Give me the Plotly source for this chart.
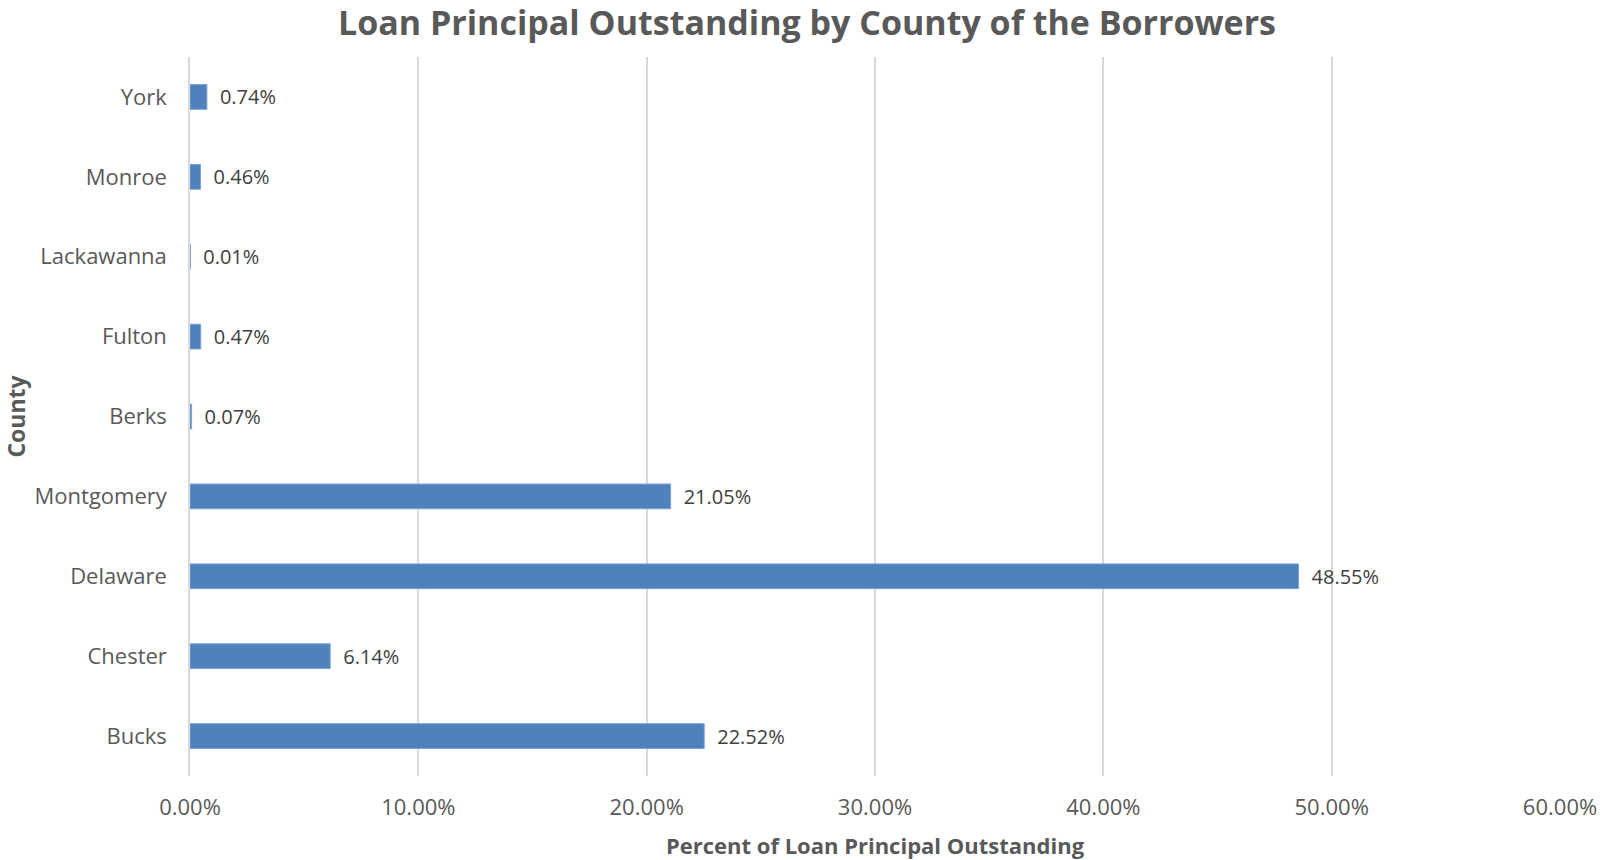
import plotly.graph_objects as go

counties = ["Bucks", "Chester", "Delaware", "Montgomery", "Berks", "Fulton", "Lackawanna", "Monroe", "York"]
percent_outstanding = [22.52, 6.14, 48.55, 21.05, 0.07, 0.47, 0.01, 0.46, 0.74]
x_ticks = [0, 10, 20, 30, 40, 50, 60]

FONT = "Open Sans"
GRAY = "#595959"

fig = go.Figure(
    go.Bar(
        y=counties,
        x=percent_outstanding,
        orientation="h",
        marker=dict(color="#4F81BD", line=dict(color="#7FA3D1", width=1)),
        width=0.31,
        text=[f"\u2002{v:.2f}%" for v in percent_outstanding],
        textposition="outside",
        constraintext="none",
        textfont=dict(family=FONT, size=20, color="#404040"),
        cliponaxis=False,
    )
)

fig.update_layout(
    width=1600,
    height=860,
    margin=dict(l=190, r=40, t=57, b=84),
    paper_bgcolor="white",
    plot_bgcolor="white",
    showlegend=False,
    title=dict(
        text="<b>Loan Principal Outstanding by County of the Borrowers</b>",
        x=807 / 1600,
        xanchor="center",
        y=1 - 23 / 860,
        yanchor="middle",
        font=dict(family=FONT, size=34, color=GRAY),
    ),
    xaxis=dict(
        range=[0, 60],
        automargin=False,
        tickvals=x_ticks,
        ticktext=[f"{v:.2f}%" for v in x_ticks],
        showgrid=True,
        gridcolor="#D9D9D9",
        gridwidth=1.5,
        zeroline=False,
        showline=False,
        ticks="outside",
        ticklen=12,
        tickcolor="rgba(0,0,0,0)",
        tickfont=dict(family=FONT, size=22, color=GRAY),
        title=dict(
            text="<b>Percent of Loan Principal Outstanding</b>",
            font=dict(family=FONT, size=22, color=GRAY),
            standoff=20,
        ),
    ),
    yaxis=dict(
        categoryorder="array",
        categoryarray=counties,
        automargin=False,
        showgrid=False,
        showline=True,
        linecolor="#D9D9D9",
        linewidth=1.5,
        ticks="outside",
        ticklen=17,
        tickcolor="rgba(0,0,0,0)",
        tickfont=dict(family=FONT, size=22, color=GRAY),
        title=dict(
            text="<b>County</b>",
            font=dict(family=FONT, size=23, color=GRAY),
            standoff=3,
        ),
    ),
)

fig.write_html("out.html")
